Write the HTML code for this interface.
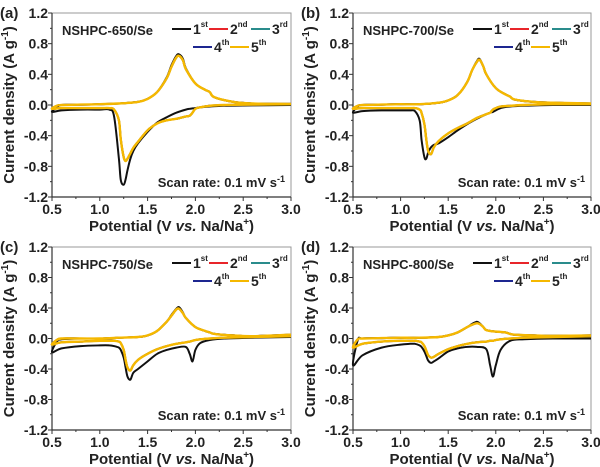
<!DOCTYPE html>
<html><head><meta charset="utf-8"><style>
body{margin:0;background:#fff;}
svg{display:block;font-family:"Liberation Sans",Arial,sans-serif;font-weight:bold;}
</style></head><body>
<svg id="fig" width="600" height="467" viewBox="0 0 600 467" xmlns="http://www.w3.org/2000/svg"></svg>
<script>
// Shared potential grids (V vs Na/Na+)
const cathV = [3.0,2.6,2.3,2.15,2.05,2.0,1.97,1.94,1.9,1.8,1.7,1.6,1.5,1.4,1.35,1.32,1.29,1.27,1.25,1.22,1.2,1.15,1.1,1.0,0.8,0.6,0.5];
const anodV = [0.5,0.55,0.6,0.8,1.0,1.2,1.4,1.5,1.6,1.7,1.75,1.8,1.83,1.87,1.9,2.0,2.1,2.15,2.2,2.4,2.6,3.0];
const yTicks = [1.2,0.8,0.4,0.0,-0.4,-0.8,-1.2];
const yTickLabels = ["1.2","0.8","0.4","0.0","-0.4","-0.8","-1.2"];
const xTicks = [0.5,1.0,1.5,2.0,2.5,3.0];
const xTickLabels = ["0.5","1.0","1.5","2.0","2.5","3.0"];
const cycleNames = ["1","2","3","4","5"];
const cycleSups = ["st","nd","rd","th","th"];
const cycleColors = ["#111111","#e8252a","#2a8c8c","#1d2690","#f5b800"];

// Panel a (650)
const aCath1 = [0.0,-0.005,-0.01,-0.02,-0.03,-0.04,-0.045,-0.05,-0.06,-0.1,-0.16,-0.23,-0.35,-0.5,-0.6,-0.7,-0.85,-0.97,-1.04,-0.98,-0.7,-0.15,-0.06,-0.06,-0.06,-0.07,-0.09];
const aCathN = [0.01,0.005,0.0,-0.01,-0.03,-0.05,-0.1,-0.14,-0.15,-0.18,-0.2,-0.24,-0.33,-0.48,-0.56,-0.63,-0.7,-0.73,-0.68,-0.45,-0.2,-0.06,-0.04,-0.04,-0.04,-0.04,-0.05];
const aAnod1 = [-0.09,-0.03,0.0,0.005,0.01,0.02,0.04,0.08,0.17,0.36,0.52,0.64,0.66,0.6,0.48,0.28,0.2,0.17,0.1,0.04,0.02,0.01];
const aAnodN = [-0.05,-0.01,0.0,0.005,0.01,0.02,0.04,0.08,0.17,0.35,0.5,0.62,0.64,0.58,0.47,0.28,0.2,0.17,0.1,0.04,0.02,0.015];
// Panel b (700)
const bCath1 = [0.0,0.0,-0.01,-0.02,-0.04,-0.07,-0.09,-0.1,-0.12,-0.18,-0.25,-0.33,-0.42,-0.5,-0.52,-0.55,-0.62,-0.7,-0.68,-0.45,-0.2,-0.08,-0.07,-0.07,-0.07,-0.08,-0.1];
const bCathN = [0.01,0.01,0.0,-0.01,-0.02,-0.04,-0.06,-0.1,-0.12,-0.17,-0.24,-0.3,-0.37,-0.47,-0.55,-0.64,-0.6,-0.45,-0.25,-0.1,-0.06,-0.04,-0.04,-0.04,-0.04,-0.04,-0.05];
const bAnod1 = [-0.07,-0.02,0.0,0.005,0.01,0.01,0.03,0.06,0.13,0.3,0.45,0.57,0.6,0.5,0.4,0.22,0.14,0.11,0.07,0.04,0.03,0.02];
const bAnodN = [-0.05,-0.01,0.0,0.005,0.01,0.01,0.03,0.06,0.13,0.3,0.45,0.56,0.59,0.5,0.4,0.22,0.14,0.11,0.07,0.04,0.03,0.02];
// Panel c (750)
const cCath1 = [0.02,0.01,0.0,-0.02,-0.06,-0.15,-0.3,-0.2,-0.11,-0.12,-0.15,-0.2,-0.3,-0.4,-0.45,-0.54,-0.5,-0.38,-0.25,-0.15,-0.12,-0.1,-0.09,-0.09,-0.1,-0.13,-0.18];
const cCathN = [0.03,0.02,0.01,0.0,-0.01,-0.02,-0.03,-0.04,-0.05,-0.07,-0.1,-0.14,-0.2,-0.28,-0.35,-0.42,-0.38,-0.28,-0.15,-0.06,-0.04,-0.03,-0.03,-0.03,-0.04,-0.05,-0.08];
const cAnod1 = [-0.18,-0.04,-0.01,0.0,0.0,0.01,0.02,0.04,0.1,0.22,0.31,0.39,0.41,0.34,0.27,0.15,0.1,0.08,0.06,0.04,0.03,0.05];
const cAnodN = [-0.08,-0.02,0.0,0.0,0.0,0.01,0.02,0.04,0.1,0.22,0.3,0.38,0.39,0.33,0.27,0.15,0.1,0.08,0.06,0.04,0.03,0.05];
// Panel d (800)
const dCath1 = [0.0,0.0,-0.01,-0.03,-0.15,-0.35,-0.5,-0.35,-0.14,-0.11,-0.11,-0.13,-0.17,-0.26,-0.3,-0.32,-0.29,-0.23,-0.17,-0.11,-0.09,-0.07,-0.07,-0.08,-0.12,-0.22,-0.35];
const dCathN = [0.03,0.02,0.01,0.0,-0.01,-0.02,-0.03,-0.03,-0.04,-0.05,-0.07,-0.1,-0.14,-0.2,-0.24,-0.25,-0.22,-0.16,-0.1,-0.05,-0.04,-0.03,-0.03,-0.03,-0.04,-0.07,-0.12];
const dAnod1 = [-0.35,-0.02,0.0,0.005,0.01,0.01,0.02,0.04,0.08,0.15,0.19,0.22,0.2,0.15,0.11,0.09,0.08,0.06,0.05,0.04,0.03,0.01];
const dAnodN = [-0.12,-0.01,0.0,0.005,0.01,0.01,0.02,0.04,0.08,0.15,0.18,0.2,0.19,0.15,0.11,0.09,0.08,0.06,0.05,0.04,0.035,0.04];

const panelLetters = ["(a)","(b)","(c)","(d)"];
const sampleNames = ["NSHPC-650/Se","NSHPC-700/Se","NSHPC-750/Se","NSHPC-800/Se"];

const NS = "http://www.w3.org/2000/svg";
const svg = document.getElementById('fig');
function mk(tag, attrs, parent){const e=document.createElementNS(NS,tag);for(const k in attrs)e.setAttribute(k,attrs[k]);(parent||svg).appendChild(e);return e;}

function smoothPath(pts){
  let d='M'+pts[0][0].toFixed(1)+','+pts[0][1].toFixed(1);
  for(let i=0;i<pts.length-1;i++){
    const p0=pts[Math.max(0,i-1)],p1=pts[i],p2=pts[i+1],p3=pts[Math.min(pts.length-1,i+2)];
    const t=1/6;
    const c1=[p1[0]+(p2[0]-p0[0])*t,p1[1]+(p2[1]-p0[1])*t];
    const c2=[p2[0]-(p3[0]-p1[0])*t,p2[1]-(p3[1]-p1[1])*t];
    d+=' C'+c1[0].toFixed(1)+','+c1[1].toFixed(1)+' '+c2[0].toFixed(1)+','+c2[1].toFixed(1)+' '+p2[0].toFixed(1)+','+p2[1].toFixed(1);
  }
  return d;
}

function drawPanel(idx, x0, x1, y0, y1, cath1, cathN, anod1, anodN){
  const g = mk('g',{});
  
  
  const xs = v => x0 + (v-0.5)/2.5*(x1-x0);
  const ys = v => y0 + (1.2-v)/2.4*(y1-y0);
  const fr = mk('rect',{x:x0,y:y0,width:x1-x0,height:y1-y0,fill:'none',stroke:'#999','stroke-width':1},g);
  
  
  mk('line',{x1:x0,y1:y0,x2:x0,y2:y1,stroke:'#333','stroke-width':1.2},g);
  mk('line',{x1:x0,y1:y1,x2:x1,y2:y1,stroke:'#333','stroke-width':1.2},g);
  yTicks.forEach((t,i)=>{
    const y=ys(t);
    mk('line',{x1:x0,y1:y,x2:x0-4,y2:y,stroke:'#333','stroke-width':1},g);
    const tx=mk('text',{x:x0-4,y:y+5,'text-anchor':'end','font-size':14,fill:'#222'},g);
    tx.textContent=yTickLabels[i];
    
    
    if(i<yTicks.length-1){const ym=ys(t-0.2);mk('line',{x1:x0,y1:ym,x2:x0-2,y2:ym,stroke:'#333','stroke-width':1},g);}
  });
  xTicks.forEach((t,i)=>{
    const x=xs(t);
    mk('line',{x1:x,y1:y1,x2:x,y2:y1+4,stroke:'#333','stroke-width':1},g);
    const tx=mk('text',{x:x,y:y1+17,'text-anchor':'middle','font-size':14,fill:'#222'},g);
    tx.textContent=xTickLabels[i];
    
    
    if(i<xTicks.length-1){const xm=xs(t+0.25);mk('line',{x1:xm,y1:y1,x2:xm,y2:y1+2,stroke:'#333','stroke-width':1},g);}
  });
  const xt=mk('text',{x:(x0+x1)/2,y:y1+34,'text-anchor':'middle','font-size':15,fill:'#222'},g);
  xt.innerHTML='Potential (V <tspan font-style="italic">vs.</tspan> Na/Na<tspan font-size="10" dy="-6">+</tspan><tspan dy="6">)</tspan>';
  
  
  const ytt=mk('text',{x:0,y:0,'text-anchor':'middle','font-size':15,fill:'#222',transform:`translate(${x0-38},${(y0+y1)/2}) rotate(-90)`},g);
  ytt.innerHTML='Current density (A g<tspan font-size="10" dy="-6">-1</tspan><tspan dy="6">)</tspan>';
  
  
  const pl=mk('text',{x:x0-52,y:y0+5,'font-size':15,fill:'#222'},g);
  pl.textContent=panelLetters[idx];
  
  
  const sn=mk('text',{x:x0+10,y:y0+22,'font-size':13,fill:'#222'},g);
  sn.textContent=sampleNames[idx];
  
  
  const sr=mk('text',{x:x1-6,y:y1-10,'text-anchor':'end','font-size':13,fill:'#222'},g);
  sr.innerHTML='Scan rate: 0.1 mV s<tspan font-size="9" dy="-5">-1</tspan>';
  
  
  cycleNames.forEach((c,ci)=>{
    const ca = ci===0?cath1:cathN, an = ci===0?anod1:anodN;
    const pts = cathV.map((v,i)=>[xs(v),ys(ca[i])]).concat(anodV.slice(1).map((v,i)=>[xs(v),ys(an[i+1])]));
    const p=mk('path',{d:smoothPath(pts),fill:'none',stroke:cycleColors[ci],'stroke-width':ci===4?2.4:2,'stroke-linejoin':'round'},g);
    
    
  });
  const lpos=[[x0+120,y0+16],[x0+157,y0+16],[x0+199,y0+16],[x0+141,y0+34],[x0+178,y0+34]];
  cycleNames.forEach((c,ci)=>{
    const [lx,ly]=lpos[ci];
    const le=mk('g',{},g);
    
    
    mk('line',{x1:lx,y1:ly,x2:lx+19,y2:ly,stroke:cycleColors[ci],'stroke-width':2},le);
    const t=mk('text',{x:lx+21,y:ly+5,'font-size':14,fill:'#222'},le);
    t.innerHTML=c+'<tspan font-size="8" dy="-7">'+cycleSups[ci]+'</tspan>';
  });
}
drawPanel(0,52,291,13,197,aCath1,aCathN,aAnod1,aAnodN);
drawPanel(1,353,591,13,197,bCath1,bCathN,bAnod1,bAnodN);
drawPanel(2,52,291,247,430,cCath1,cCathN,cAnod1,cAnodN);
drawPanel(3,353,591,247,430,dCath1,dCathN,dAnod1,dAnodN);
</script>
</body></html>
